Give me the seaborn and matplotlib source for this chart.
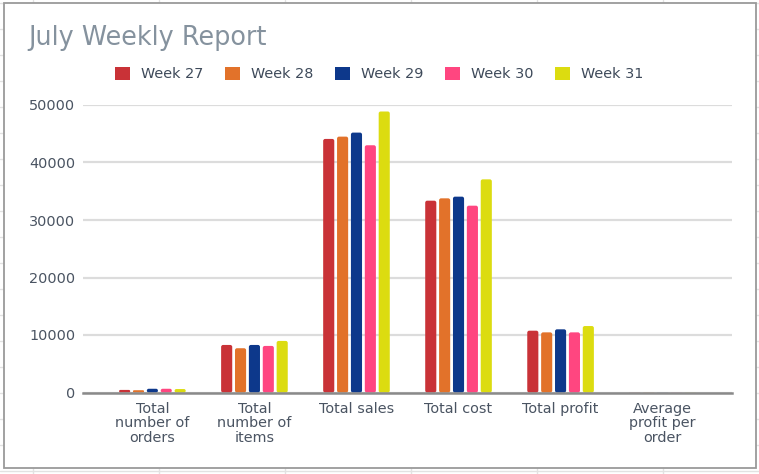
import matplotlib
matplotlib.use("Agg")
import matplotlib.pyplot as plt
import seaborn as sns
import pandas as pd
from matplotlib.patches import Rectangle, FancyBboxPatch, Patch
from matplotlib.lines import Line2D

# ---- data ----
categories = ["Total\nnumber of\norders", "Total\nnumber of\nitems", "Total sales",
              "Total cost", "Total profit", "Average\nprofit per\norder"]
weeks = ["Week 27", "Week 28", "Week 29", "Week 30", "Week 31"]
week27 = [450, 8270, 44100, 33360, 10750, 24]
week28 = [400, 7700, 44500, 33770, 10460, 26]
week29 = [650, 8270, 45200, 34060, 10990, 17]
week30 = [650, 8100, 43000, 32490, 10460, 16]
week31 = [600, 8970, 48870, 37070, 11560, 19]
colors = ["#C93237", "#E2722A", "#0D388B", "#FF4680", "#DCDC10"]

series = [week27, week28, week29, week30, week31]
rows = []
for w, vals in zip(weeks, series):
    for c, v in zip(categories, vals):
        rows.append({"category": c, "week": w, "value": v})
df = pd.DataFrame(rows)

W, H = 759, 474
sns.set_theme(style="white")
plt.rcParams["font.family"] = ["DejaVu Sans"]
fig = plt.figure(figsize=(W / 100, H / 100), dpi=100, facecolor="white")

def fx(px):
    return px / W

def fy(py):
    return 1 - py / H

# spreadsheet background grid (outside the chart frame)
for xv in [33, 159, 285, 411, 537, 663]:
    fig.add_artist(Line2D([fx(xv), fx(xv)], [0, 1], color="#e2e2e2", lw=1, zorder=-3))
for k in range(-1, 18):
    yv = 29.3 + 26 * k
    fig.add_artist(Line2D([0, 1], [fy(yv), fy(yv)], color="#e2e2e2", lw=1, zorder=-3))
# chart frame
fig.add_artist(Rectangle((fx(4), fy(468)), fx(755.7) - fx(4), fy(3.3) - fy(468),
                         facecolor="white", edgecolor="#9a9a9a", lw=1.3, zorder=-2))

ax = fig.add_axes([fx(83), fy(392.5), fx(732) - fx(83), fy(105) - fy(392.5)])
ax.set_facecolor("none")

sns.barplot(data=df, x="category", y="value", hue="week", hue_order=weeks,
            order=categories, palette=colors, width=0.68, gap=0.2,
            saturation=1, legend=False, ax=ax, errorbar=None, zorder=3)

ax.set_xlim(-0.68, 5.68)
ax.set_ylim(0, 50000)

# rounded bar tops
px_per_x = (732 - 83) / (5.68 + 0.68)
px_per_y = (392.5 - 105) / 50000
r_px = 2.0
r_x = r_px / px_per_x
aspect = (r_px / px_per_y) / r_x
bars = list(ax.patches)
for p in bars:
    x0, y0 = p.get_x(), p.get_y()
    w, h = p.get_width(), p.get_height()
    fc = p.get_facecolor()
    p.remove()
    if h <= 0:
        continue
    rs = min(r_x, (h / aspect) / 2, w / 2)
    ax.add_patch(FancyBboxPatch((x0, y0), w, h,
                                boxstyle=f"round,pad=0,rounding_size={rs}",
                                mutation_aspect=aspect, facecolor=fc,
                                edgecolor="none", zorder=3))

ax.set_yticks([0, 10000, 20000, 30000, 40000, 50000])
ax.set_yticklabels(["0", "10000", "20000", "30000", "40000", "50000"])
ax.yaxis.grid(True, color="#dcdcdc", lw=1.6, zorder=0)
ax.xaxis.grid(False)
ax.set_axisbelow(True)
for s in ["top", "right", "left"]:
    ax.spines[s].set_visible(False)
ax.spines["bottom"].set_color("#8a8a8a")
ax.spines["bottom"].set_linewidth(1.8)
ax.spines["bottom"].set_zorder(4)
ax.tick_params(axis="y", length=0, pad=5.5, labelsize=10.4, labelcolor="#4a5462")
ax.tick_params(axis="x", length=0, pad=6.5, labelsize=10.4, labelcolor="#4a5462")
for t in ax.get_xticklabels():
    t.set_linespacing(1.05)
ax.set_xlabel("")
ax.set_ylabel("")

# title
fig.text(fx(28), fy(38), "July Weekly Report", fontsize=18.4, color="#85929e",
         ha="left", va="center")

# legend
handles = [Patch(facecolor=c, edgecolor="none") for c in colors]
fig.legend(handles, weeks, loc="center left", bbox_to_anchor=(fx(115), fy(74)),
           ncol=5, frameon=False, fontsize=10.4, labelcolor="#3e4a5a",
           handlelength=1.05, handleheight=1.05, handletextpad=0.75,
           columnspacing=1.5, borderpad=0, borderaxespad=0)

fig.savefig("out.png", dpi=100, facecolor="white")
